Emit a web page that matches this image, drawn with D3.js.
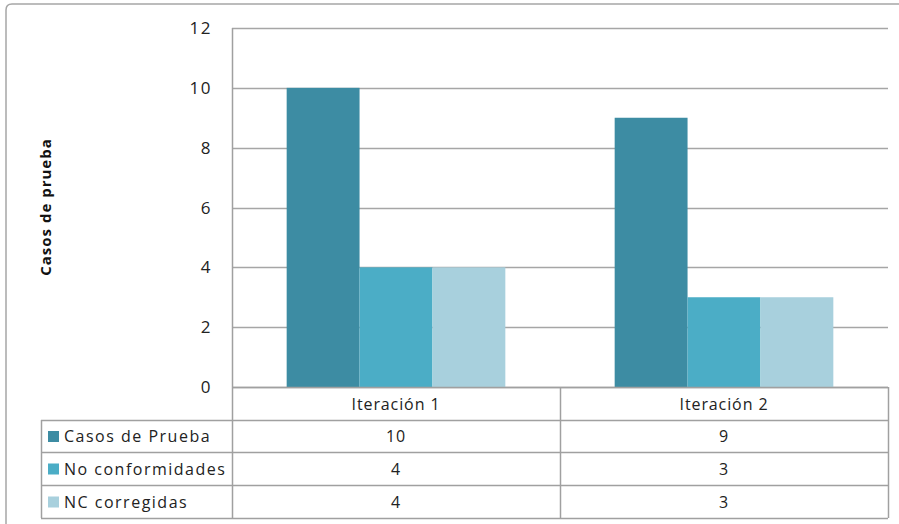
<!DOCTYPE html>
<html>
<head>
<meta charset="utf-8">
<script src="https://cdn.jsdelivr.net/npm/d3@7"></script>
<style>
	body { margin: 0; background: #fff; }
	text { font-family: "Open Sans", "DejaVu Sans", sans-serif; }
</style>
</head>
<body>
<script>
	let categories = ["Iteración 1", "Iteración 2"];
	let series = ["Casos de Prueba", "No conformidades", "NC corregidas"];
	let casos = [10, 9];
	let noConformidades = [4, 3];
	let ncCorregidas = [4, 3];
	let yTicks = [0, 2, 4, 6, 8, 10, 12];
	let colors = ["#3d8ca3", "#4badc6", "#a8d0dd"];

	let values = [casos, noConformidades, ncCorregidas];

	let width = 899;
	let height = 524;

	let plot = {left: 232, right: 888, top: 28, bottom: 387};
	let tableLeft = 41;
	let rowEdges = [387, 420, 452, 485, 518];
	let fontSize = 16;
	let spacing = 0.9;

	let svg = d3.select("body").append("svg")
		.attr("width", width)
		.attr("height", height);

	// frame of the chart
	svg.append("path")
		.attr("d", "M6,524 L6,10 Q6,4 12,4 L899,4")
		.attr("fill", "none")
		.attr("stroke", "#a6a6a6")
		.attr("stroke-width", 1.5);

	let y = d3.scaleLinear()
		.domain([0, 12])
		.range([plot.bottom, plot.top]);

	let x = d3.scaleBand()
		.domain(categories)
		.range([plot.left, plot.right]);

	let xInner = d3.scaleBand()
		.domain(series)
		.range([0, x.bandwidth()])
		.paddingOuter(0.75);

	// gridlines
	svg.selectAll(".grid")
		.data(yTicks)
		.join("line")
		.attr("class", "grid")
		.attr("x1", plot.left)
		.attr("x2", plot.right)
		.attr("y1", d => Math.round(y(d)) + 0.5)
		.attr("y2", d => Math.round(y(d)) + 0.5)
		.attr("stroke", "#a6a6a6")
		.attr("stroke-width", 1.5);

	// y tick labels
	svg.selectAll(".ticklabel")
		.data(yTicks)
		.join("text")
		.attr("class", "ticklabel")
		.attr("x", 212)
		.attr("y", d => y(d) + 6)
		.attr("text-anchor", "end")
		.attr("font-size", 17)
		.attr("letter-spacing", 1.5)
		.attr("fill", "#222")
		.text(d => d);

	// axis title
	svg.append("text")
		.attr("transform", "translate(51,207) rotate(-90)")
		.attr("text-anchor", "middle")
		.attr("font-size", 15)
		.attr("font-weight", "bold")
		.attr("letter-spacing", 1)
		.attr("fill", "#111")
		.text("Casos de prueba");

	// bars
	let bars = [];
	series.forEach((s, si) => {
		categories.forEach((c, ci) => {
			bars.push({series: s, si: si, cat: c, value: values[si][ci]});
		});
	});

	svg.selectAll(".bar")
		.data(bars)
		.join("rect")
		.attr("class", "bar")
		.attr("x", d => x(d.cat) + xInner(d.series))
		.attr("width", xInner.bandwidth())
		.attr("y", d => y(d.value))
		.attr("height", d => y(0) - y(d.value))
		.attr("fill", d => colors[d.si]);

	// data table lines
	let tableStroke = "#a0a0a0";
	rowEdges.forEach((ry, i) => {
		svg.append("line")
			.attr("x1", i === 0 ? plot.left : tableLeft)
			.attr("x2", plot.right)
			.attr("y1", ry + 0.5)
			.attr("y2", ry + 0.5)
			.attr("stroke", tableStroke)
			.attr("stroke-width", 1.5);
	});
	let colEdges = [plot.left, x(categories[1]), plot.right];
	colEdges.forEach(cx => {
		svg.append("line")
			.attr("x1", cx + 0.5)
			.attr("x2", cx + 0.5)
			.attr("y1", cx === plot.left ? plot.top : rowEdges[0])
			.attr("y2", rowEdges[4])
			.attr("stroke", tableStroke)
			.attr("stroke-width", 1.5);
	});
	svg.append("line")
		.attr("x1", tableLeft + 0.5)
		.attr("x2", tableLeft + 0.5)
		.attr("y1", rowEdges[1])
		.attr("y2", rowEdges[4])
		.attr("stroke", tableStroke)
		.attr("stroke-width", 1.5);

	// header row
	svg.selectAll(".header")
		.data(categories)
		.join("text")
		.attr("class", "header")
		.attr("x", d => x(d) + x.bandwidth() / 2)
		.attr("y", (rowEdges[0] + rowEdges[1]) / 2 + 6)
		.attr("text-anchor", "middle")
		.attr("font-size", fontSize)
		.attr("letter-spacing", spacing)
		.attr("fill", "#222")
		.text(d => d);

	// series rows
	series.forEach((s, si) => {
		let rowMid = (rowEdges[si + 1] + rowEdges[si + 2]) / 2;
		svg.append("rect")
			.attr("x", 48)
			.attr("y", rowMid - 5)
			.attr("width", 11)
			.attr("height", 11)
			.attr("fill", colors[si]);
		svg.append("text")
			.attr("x", 64)
			.attr("y", rowMid + 6)
			.attr("font-size", fontSize)
			.attr("letter-spacing", 1.5)
			.attr("fill", "#222")
			.text(s);
		svg.selectAll(".val" + si)
			.data(categories)
			.join("text")
			.attr("class", "val" + si)
			.attr("x", d => x(d) + x.bandwidth() / 2)
			.attr("y", rowMid + 6)
			.attr("text-anchor", "middle")
			.attr("font-size", fontSize)
			.attr("letter-spacing", spacing)
			.attr("fill", "#222")
			.text((d, ci) => values[si][ci]);
	});
</script>
</body>
</html>
